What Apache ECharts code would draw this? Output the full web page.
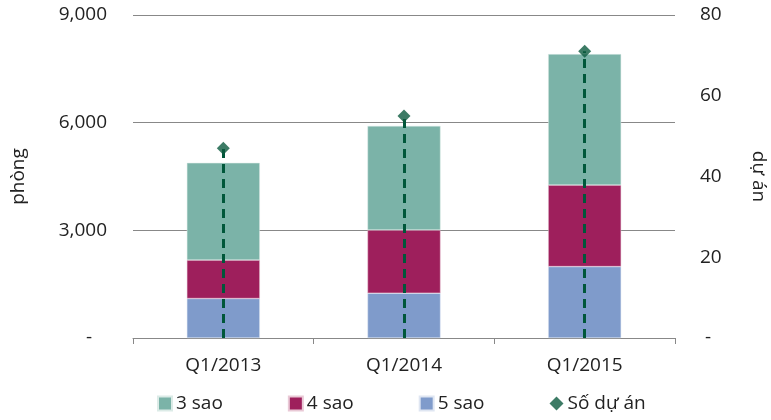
<!DOCTYPE html>
<html>
<head>
<meta charset="utf-8">
<script src="https://cdn.jsdelivr.net/npm/echarts@6/dist/echarts.min.js"></script>
<style>
  html, body { margin: 0; padding: 0; background: #fff; }
  #chart { width: 771px; height: 420px; }
</style>
</head>
<body>
<div id="chart"></div>
<script>
// số liệu
var categories = ["Q1/2013", "Q1/2014", "Q1/2015"];
var sao3 = [2710, 2900, 3650];
var sao4 = [1070, 1760, 2270];
var sao5 = [1100, 1250, 1990];
var soDuAn = [47, 55, 71];

var font = "Open Sans";
var fs = 19;

var chart = echarts.init(document.getElementById("chart"));

// đường đứt nét từ trục lên điểm
var dropLines = categories.map(function (c, i) {
  return [{ coord: [c, 0] }, { coord: [c, soDuAn[i]] }];
});

chart.setOption({
  animation: false,
  textStyle: { fontFamily: font, color: "#222" },
  grid: { left: 133, right: 96, top: 15, bottom: 82, outerBoundsMode: "none", containLabel: false },
  legend: {
    bottom: 2,
    left: 152,
    itemWidth: 14,
    itemHeight: 14,
    itemGap: 65,
    textStyle: { fontFamily: font, fontSize: fs, color: "#222", padding: [0, 0, 0, -1] },
    data: [
      { name: "3 sao", icon: "rect" },
      { name: "4 sao", icon: "rect" },
      { name: "5 sao", icon: "rect" },
      { name: "Số dự án", icon: "diamond" }
    ]
  },
  xAxis: {
    type: "category",
    data: categories,
    axisLine: { lineStyle: { color: "#888", width: 1 } },
    axisTick: { show: true, length: 6, lineStyle: { color: "#888" } },
    axisLabel: { fontFamily: font, fontSize: fs, color: "#222", margin: 18 }
  },
  yAxis: [
    {
      type: "value",
      min: 0, max: 9000, interval: 3000,
      name: "phòng",
      nameLocation: "middle",
      nameGap: 105,
      nameRotate: 90,
      nameTextStyle: { fontFamily: font, fontSize: fs, color: "#222" },
      axisLine: { show: false },
      axisTick: { show: false },
      axisLabel: {
        fontFamily: font, fontSize: fs, color: "#222", margin: 26,
        formatter: function (v) { return v === 0 ? "-   " : v.toLocaleString("en-US"); }
      },
      splitLine: { lineStyle: { color: "#888", width: 1 } }
    },
    {
      type: "value",
      min: 0, max: 80, interval: 20,
      name: "dự án",
      nameLocation: "middle",
      nameGap: 74,
      nameRotate: -90,
      nameTextStyle: { fontFamily: font, fontSize: fs, color: "#222" },
      axisLine: { show: false },
      axisTick: { show: false },
      axisLabel: {
        fontFamily: font, fontSize: fs, color: "#222", margin: 25,
        formatter: function (v) { return v === 0 ? " -" : String(v); }
      },
      splitLine: { show: false }
    }
  ],
  series: [
    {
      name: "5 sao", type: "bar", stack: "phong", barWidth: 73,
      itemStyle: { color: "#7F9BCB", borderColor: "#dfe6f2", borderWidth: 0.5 },
      data: sao5
    },
    {
      name: "4 sao", type: "bar", stack: "phong", barWidth: 73,
      itemStyle: { color: "#9E1F5C", borderColor: "#e9c9d6", borderWidth: 0.5 },
      data: sao4
    },
    {
      name: "3 sao", type: "bar", stack: "phong", barWidth: 73,
      itemStyle: { color: "#7BB3A8", borderColor: "#dcebe7", borderWidth: 0.5 },
      data: sao3
    },
    {
      // chỉ để vẽ đường đứt nét, nằm dưới điểm
      name: "drop", type: "scatter", yAxisIndex: 1,
      symbolSize: 0, z: 3, silent: true,
      data: soDuAn,
      markLine: {
        silent: true,
        symbol: "none",
        label: { show: false },
        lineStyle: { color: "#00573A", width: 3, type: [9, 6] },
        data: dropLines
      }
    },
    {
      name: "Số dự án", type: "scatter", yAxisIndex: 1,
      symbol: "diamond", symbolSize: [13, 13], z: 6,
      itemStyle: { color: "#0B5A3F" },
      data: soDuAn
    }
  ]
});
</script>
</body>
</html>
